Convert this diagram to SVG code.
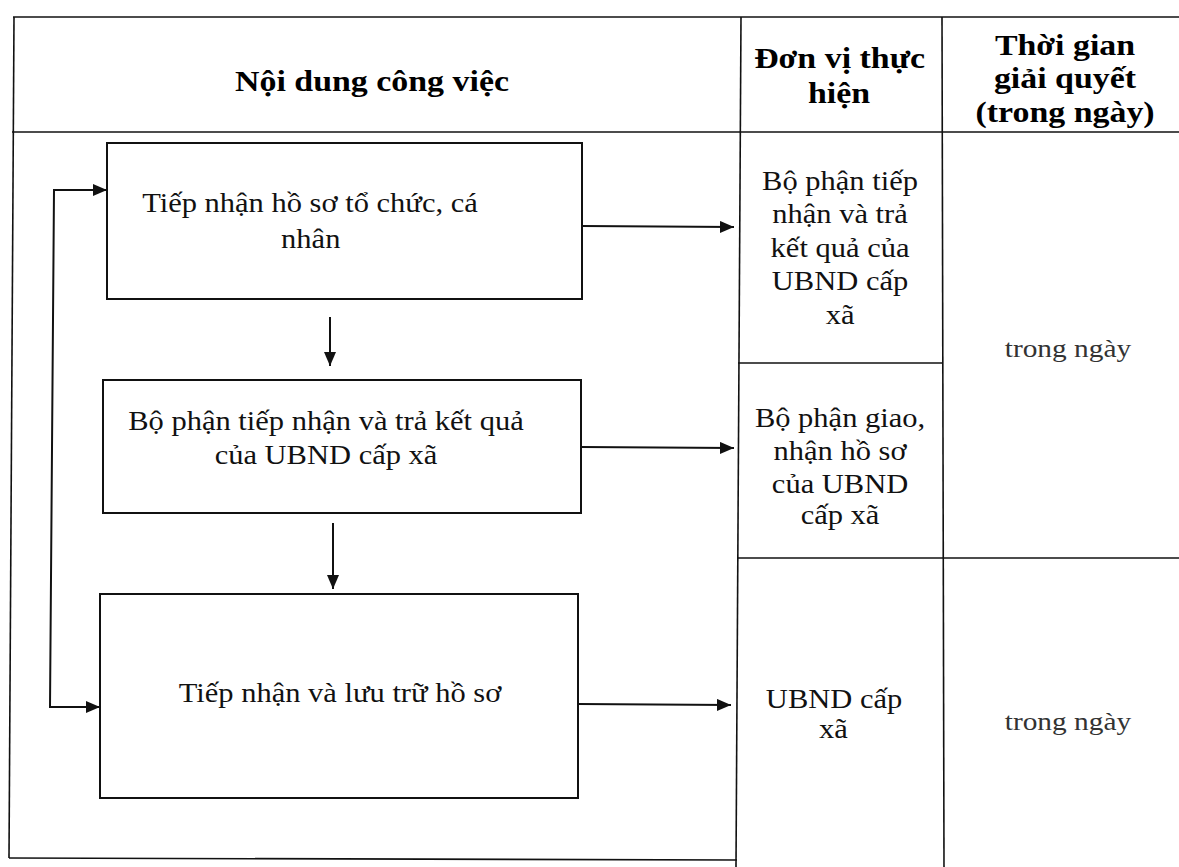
<svg xmlns="http://www.w3.org/2000/svg" width="1179" height="867" viewBox="0 0 1179 867">
<style>
.tl{stroke:#111;stroke-width:1.6;fill:none}
.box{fill:#fff;stroke:#111;stroke-width:2}
.cn{stroke:#111;stroke-width:2;fill:none}
.t{font-family:"Liberation Serif","Times New Roman",serif;font-size:27px;fill:#111;text-anchor:middle}
.h{font-family:"Liberation Serif","Times New Roman",serif;font-size:30px;font-weight:bold;fill:#000;text-anchor:middle}
.g{font-family:"Liberation Serif","Times New Roman",serif;font-size:26px;fill:#333;text-anchor:middle}
</style>
<defs>
<marker id="ah" viewBox="0 0 14 12" refX="14" refY="6" markerWidth="14" markerHeight="12" markerUnits="userSpaceOnUse" orient="auto">
<path d="M0,0 L14,6 L0,12 Z" fill="#111"/>
</marker>
</defs>
<rect width="1179" height="867" fill="#fff"/>
<g id="table">
<line class="tl" x1="13" y1="17" x2="1179" y2="17"/>
<line class="tl" x1="14" y1="17" x2="9" y2="858"/>
<line class="tl" x1="9" y1="858" x2="737" y2="860"/>
<line class="tl" x1="12" y1="132" x2="1179" y2="132"/>
<line class="tl" x1="741" y1="17" x2="736" y2="867"/>
<line class="tl" x1="942" y1="17" x2="944" y2="867"/>
<line class="tl" x1="738" y1="363" x2="942" y2="363"/>
<line class="tl" x1="737" y1="558" x2="1179" y2="558"/>
</g>
<g id="header-content">
<g transform="scale(1.13 1)"><text class="h" x="329.2" y="91">Nội dung công việc</text></g>
</g>
<g id="header-unit">
<g transform="scale(1.13 1)"><text class="h" x="743" y="68">Đơn vị thực</text><text class="h" x="742.5" y="103">hiện</text></g>
</g>
<g id="header-time">
<g transform="scale(1.13 1)"><text class="h" x="942.5" y="55">Thời gian</text><text class="h" x="942.5" y="88">giải quyết</text><text class="h" x="942.5" y="122">(trong ngày)</text></g>
</g>
<g id="step1">
<rect class="box" x="107" y="143" width="475" height="156"/>
<g transform="scale(1.13 1)"><text class="t" x="274.3" y="212">Tiếp nhận hồ sơ tổ chức, cá</text><text class="t" x="275" y="248">nhân</text></g>
</g>
<g id="step2">
<rect class="box" x="103" y="380" width="478" height="133"/>
<g transform="scale(1.13 1)"><text class="t" x="288.5" y="430">Bộ phận tiếp nhận và trả kết quả</text><text class="t" x="288.5" y="464">của UBND cấp xã</text></g>
</g>
<g id="step3">
<rect class="box" x="100" y="594" width="478" height="204"/>
<g transform="scale(1.13 1)"><text class="t" x="300.9" y="702">Tiếp nhận và lưu trữ hồ sơ</text></g>
</g>
<g id="unit1">
<g transform="scale(1.13 1)"><text class="t" x="743.4" y="190">Bộ phận tiếp</text><text class="t" x="743.4" y="223">nhận và trả</text><text class="t" x="743.4" y="257">kết quả của</text><text class="t" x="743.4" y="290">UBND cấp</text><text class="t" x="743.4" y="324">xã</text></g>
</g>
<g id="unit2">
<g transform="scale(1.13 1)"><text class="t" x="743.4" y="427">Bộ phận giao,</text><text class="t" x="743.4" y="460">nhận hồ sơ</text><text class="t" x="743.4" y="493">của UBND</text><text class="t" x="743.4" y="524">cấp xã</text></g>
</g>
<g id="unit3">
<g transform="scale(1.13 1)"><text class="t" x="738.1" y="708">UBND cấp</text><text class="t" x="737.5" y="738">xã</text></g>
</g>
<g id="time1">
<g transform="scale(1.13 1)"><text class="g" x="945.1" y="357">trong ngày</text></g>
</g>
<g id="time2">
<g transform="scale(1.13 1)"><text class="g" x="945.1" y="730">trong ngày</text></g>
</g>
<g id="connectors">
<line class="cn" x1="582" y1="226" x2="734" y2="227" marker-end="url(#ah)"/>
<line class="cn" x1="581" y1="447" x2="734" y2="448" marker-end="url(#ah)"/>
<line class="cn" x1="578" y1="704" x2="731" y2="705" marker-end="url(#ah)"/>
<line class="cn" x1="330" y1="317" x2="330" y2="366" marker-end="url(#ah)"/>
<line class="cn" x1="333" y1="523" x2="333" y2="589" marker-end="url(#ah)"/>
<polyline class="cn" points="95,190 54,190 50,707 90,707"/>
<line class="cn" x1="80" y1="190" x2="107" y2="190" marker-end="url(#ah)"/>
<line class="cn" x1="75" y1="707" x2="100" y2="707" marker-end="url(#ah)"/>
</g>
</svg>
